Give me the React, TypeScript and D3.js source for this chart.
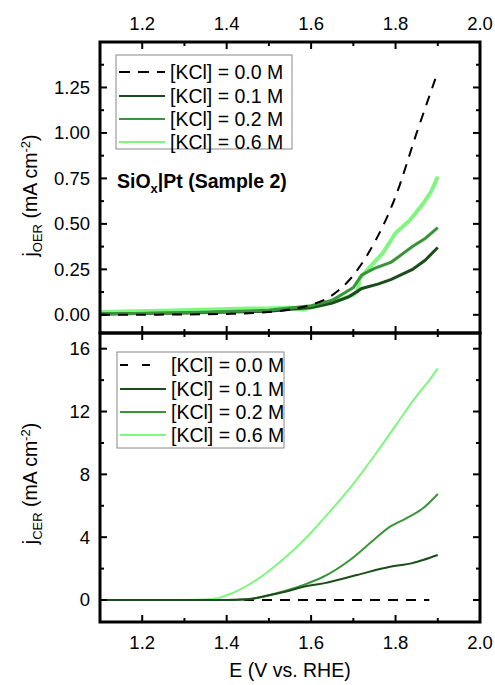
import React from "react";
import * as d3 from "d3";

const W = 495;
const H = 685;

// Shared x
const xTicks = [1.2, 1.4, 1.6, 1.8, 2.0];
const xMinor = [1.1, 1.3, 1.5, 1.7, 1.9];

// Top panel (OER)
const oerTicks = [0, 0.25, 0.5, 0.75, 1.0, 1.25];
const oerMinor = [-0.125, 0.125, 0.375, 0.625, 0.875, 1.125, 1.375];
const oer00x = [1.1, 1.3, 1.4, 1.5, 1.55, 1.6, 1.645, 1.69, 1.74, 1.8, 1.85, 1.9];
const oer00y = [0.0, 0.002, 0.005, 0.015, 0.03, 0.055, 0.1, 0.19, 0.356, 0.65, 1.0, 1.335];
const oer01x = [1.1, 1.3, 1.5, 1.6, 1.65, 1.69, 1.72, 1.76, 1.79, 1.84, 1.87, 1.9];
const oer01y = [0.005, 0.01, 0.02, 0.04, 0.065, 0.1, 0.145, 0.17, 0.195, 0.25, 0.3, 0.37];
const oer02x = [1.1, 1.3, 1.5, 1.6, 1.65, 1.7, 1.72, 1.75, 1.79, 1.84, 1.87, 1.9];
const oer02y = [0.005, 0.012, 0.025, 0.05, 0.08, 0.15, 0.22, 0.255, 0.29, 0.375, 0.42, 0.48];
const oer06x = [1.1, 1.3, 1.45, 1.5, 1.55, 1.58, 1.62, 1.66, 1.7, 1.71, 1.715, 1.74, 1.77, 1.8, 1.834, 1.865, 1.885, 1.9];
const oer06y = [0.015, 0.025, 0.035, 0.035, 0.04, 0.03, 0.05, 0.075, 0.11, 0.13, 0.2, 0.265, 0.34, 0.45, 0.52, 0.61, 0.68, 0.76];

// Bottom panel (CER)
const cerTicks = [0, 4, 8, 12, 16];
const cerMinor = [2, 6, 10, 14];
const cer00x = [1.1, 1.88];
const cer00y = [0, 0];
const cer01x = [1.1, 1.4, 1.45, 1.5, 1.55, 1.582, 1.629, 1.708, 1.787, 1.84, 1.865, 1.9];
const cer01y = [0, 0, 0.05, 0.3, 0.6, 0.85, 1.06, 1.59, 2.12, 2.35, 2.55, 2.87];
const cer02x = [1.1, 1.4, 1.455, 1.518, 1.582, 1.629, 1.692, 1.748, 1.787, 1.825, 1.865, 1.9];
const cer02y = [0, 0, 0.06, 0.43, 0.96, 1.48, 2.55, 3.82, 4.67, 5.2, 5.84, 6.75];
const cer06x = [1.1, 1.3, 1.35, 1.38, 1.4, 1.43, 1.46, 1.5, 1.55, 1.6, 1.65, 1.7, 1.75, 1.8, 1.85, 1.88, 1.9];
const cer06y = [0, 0, 0.03, 0.12, 0.3, 0.65, 1.1, 1.85, 2.97, 4.3, 5.8, 7.4, 9.2, 11.1, 13.0, 14.0, 14.75];

const labels = ["[KCl] = 0.0 M", "[KCl] = 0.1 M", "[KCl] = 0.2 M", "[KCl] = 0.6 M"];
const colors = ["#000000", "#1b4d1b", "#3a943a", "#7ff77f"];

const FONT = "Liberation Sans, Arial, sans-serif";

const L = 100, R = 480;
const T1 = 42, B1 = 333, T2 = 333, B2 = 622;

export default function App() {
  const x = d3.scaleLinear().domain([1.1, 2.0]).range([L, R]);
  const y1 = d3.scaleLinear().domain([-0.1, 1.5]).range([B1, T1]);
  const y2 = d3.scaleLinear().domain([-1.4, 17]).range([B2, T2]);

  const mk = (ys: d3.ScaleLinear<number, number>, xs: number[], vs: number[], curve = d3.curveLinear) =>
    d3.line<number>().x((_, i) => x(xs[i])).y((v) => ys(v)).curve(curve)(vs) || "";

  const oer = [
    { xs: oer00x, ys: oer00y },
    { xs: oer01x, ys: oer01y },
    { xs: oer02x, ys: oer02y },
    { xs: oer06x, ys: oer06y },
  ];
  const cer = [
    { xs: cer00x, ys: cer00y },
    { xs: cer01x, ys: cer01y },
    { xs: cer02x, ys: cer02y },
    { xs: cer06x, ys: cer06y },
  ];

  const frame = (top: number, bottom: number) => (
    <rect x={L} y={top} width={R - L} height={bottom - top} fill="none" stroke="#000" strokeWidth={3} />
  );

  const xTickMarks = (top: number, bottom: number) => (
    <g stroke="#000" strokeWidth={2}>
      {xTicks.map((t) => (
        <g key={"M" + t}>
          <line x1={x(t)} x2={x(t)} y1={top} y2={top + 7} />
          <line x1={x(t)} x2={x(t)} y1={bottom} y2={bottom - 7} />
        </g>
      ))}
      {xMinor.map((t) => (
        <g key={"m" + t}>
          <line x1={x(t)} x2={x(t)} y1={top} y2={top + 4} />
          <line x1={x(t)} x2={x(t)} y1={bottom} y2={bottom - 4} />
        </g>
      ))}
    </g>
  );

  const yTickMarks = (ys: d3.ScaleLinear<number, number>, major: number[], minor: number[]) => {
    const [d0, d1] = ys.domain();
    const inD = (v: number) => v >= d0 && v <= d1;
    return (
      <g stroke="#000" strokeWidth={2}>
        {major.filter(inD).map((t) => (
          <g key={"M" + t}>
            <line x1={L} x2={L + 7} y1={ys(t)} y2={ys(t)} />
            <line x1={R} x2={R - 7} y1={ys(t)} y2={ys(t)} />
          </g>
        ))}
        {minor.filter(inD).map((t) => (
          <g key={"m" + t}>
            <line x1={L} x2={L + 4} y1={ys(t)} y2={ys(t)} />
            <line x1={R} x2={R - 4} y1={ys(t)} y2={ys(t)} />
          </g>
        ))}
      </g>
    );
  };

  const legend = (x0: number, y0: number, w: number, h: number, rowY: number[], dashShort: boolean) => (
    <g fontFamily={FONT} fontSize={19.5}>
      <rect x={x0} y={y0} width={w} height={h} fill="#fff" stroke="#888" strokeWidth={1} />
      {labels.map((lab, i) => (
        <g key={lab}>
          <line
            x1={x0 + 3}
            x2={i === 0 && dashShort ? x0 + 36 : x0 + 49}
            y1={rowY[i]}
            y2={rowY[i]}
            stroke={colors[i]}
            strokeWidth={2}
            strokeDasharray={i === 0 ? (dashShort ? "8,14" : "11,8") : undefined}
          />
          <text x={x0 + 54} y={rowY[i]} dy="0.35em" fill="#000">
            {lab}
          </text>
        </g>
      ))}
    </g>
  );

  return (
    <svg width={W} height={H} style={{ position: "absolute", left: 0, top: 0, background: "#fff" }}>
      <defs>
        <clipPath id="c1">
          <rect x={L} y={T1} width={R - L} height={B1 - T1} />
        </clipPath>
        <clipPath id="c2">
          <rect x={L} y={T2} width={R - L} height={B2 - T2} />
        </clipPath>
      </defs>

      {/* Top panel curves */}
      <g clipPath="url(#c1)" fill="none">
        {[3, 1, 2, 0].map((i) => (
          <path
            key={i}
            d={mk(y1, oer[i].xs, oer[i].ys, i === 0 ? d3.curveMonotoneX : d3.curveLinear)}
            stroke={colors[i]}
            strokeWidth={i === 0 ? 2 : i === 3 ? 4 : 3}
            strokeDasharray={i === 0 ? "10,8" : undefined}
          />
        ))}
      </g>
      {/* Bottom panel curves */}
      <g clipPath="url(#c2)" fill="none">
        {[0, 3, 2, 1].map((i) => (
          <path
            key={i}
            d={mk(y2, cer[i].xs, cer[i].ys, d3.curveMonotoneX)}
            stroke={colors[i]}
            strokeWidth={2}
            strokeDasharray={i === 0 ? "10,8" : undefined}
          />
        ))}
      </g>

      {legend(116, 55, 176, 94, [72, 96, 119, 142], false)}
      <text x={117} y={181} dy="0.35em" fontFamily={FONT} fontSize={19.5} fontWeight="bold">
        SiO<tspan fontSize={13} dy="5">x</tspan>
        <tspan dy="-5">|Pt (Sample 2)</tspan>
      </text>
      {legend(117, 352, 167, 96, [365, 389, 412, 435], true)}

      {frame(T1, B1)}
      {frame(T2, B2)}
      {xTickMarks(T1, B1)}
      {xTickMarks(T2, B2)}
      {yTickMarks(y1, oerTicks, oerMinor)}
      {yTickMarks(y2, cerTicks, cerMinor)}

      <g fontFamily={FONT} fontSize={18.5} fill="#000">
        {xTicks.map((t) => (
          <text key={"tt" + t} x={x(t)} y={24} textAnchor="middle" dy="0.35em">
            {t.toFixed(1)}
          </text>
        ))}
        {xTicks.map((t) => (
          <text key={"bt" + t} x={x(t)} y={643} textAnchor="middle" dy="0.35em">
            {t.toFixed(1)}
          </text>
        ))}
        {oerTicks.map((t) => (
          <text key={"y1" + t} x={90} y={y1(t)} textAnchor="end" dy="0.35em">
            {t.toFixed(2)}
          </text>
        ))}
        {cerTicks.map((t) => (
          <text key={"y2" + t} x={90} y={y2(t)} textAnchor="end" dy="0.35em">
            {t}
          </text>
        ))}
      </g>
      <g fontFamily={FONT} fontSize={19.5} fill="#000">
        <text x={290} y={670} textAnchor="middle" dy="0.35em">
          E (V vs. RHE)
        </text>
        <text transform={`translate(30,${(T1 + B1) / 2 + 8}) rotate(-90)`} textAnchor="middle" dy="0.35em">
          j<tspan fontSize={13} dy="5">OER</tspan>
          <tspan dy="-5"> (mA cm</tspan>
          <tspan fontSize={13} dy="-7">-2</tspan>
          <tspan dy="7">)</tspan>
        </text>
        <text transform={`translate(30,${(T2 + B2) / 2 + 6}) rotate(-90)`} textAnchor="middle" dy="0.35em">
          j<tspan fontSize={13} dy="5">CER</tspan>
          <tspan dy="-5"> (mA cm</tspan>
          <tspan fontSize={13} dy="-7">-2</tspan>
          <tspan dy="7">)</tspan>
        </text>
      </g>
    </svg>
  );
}
